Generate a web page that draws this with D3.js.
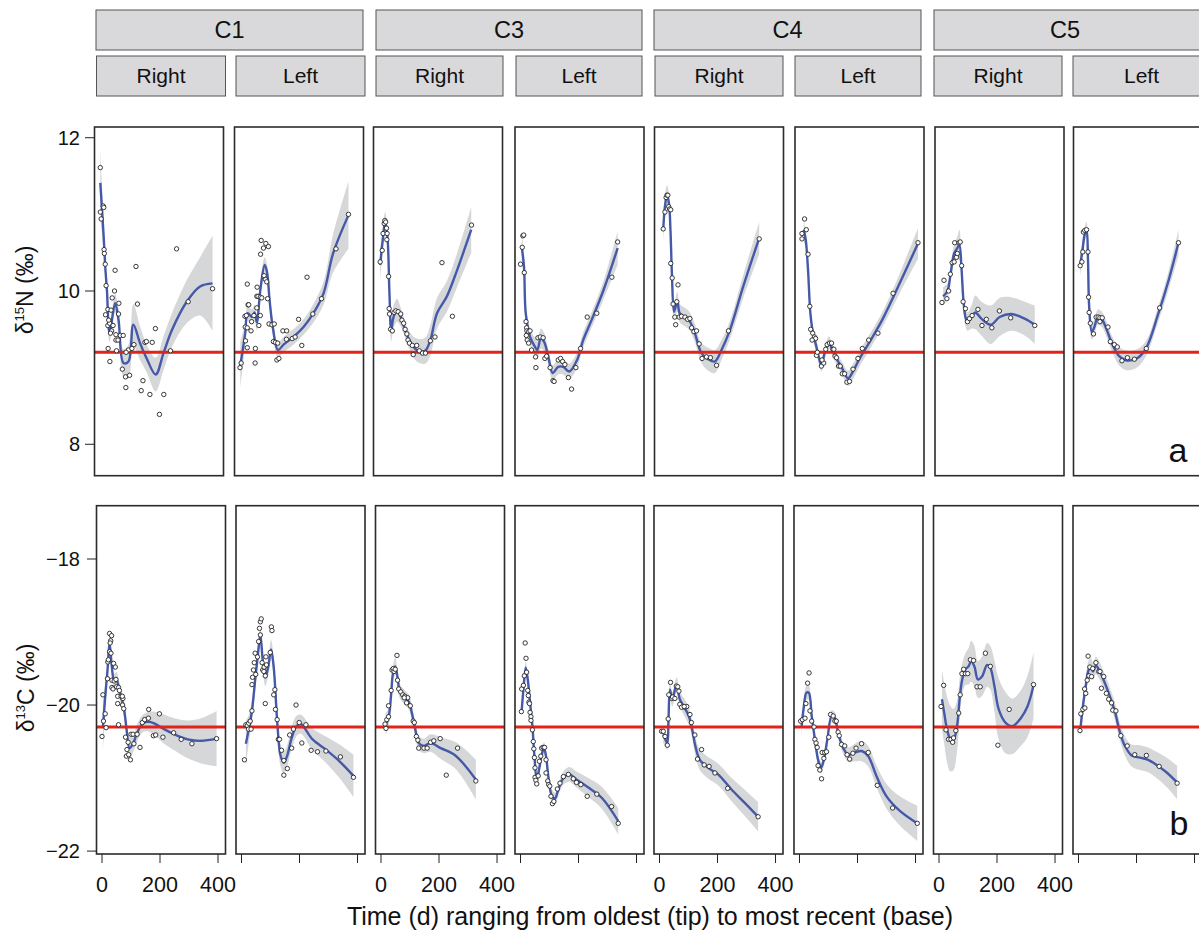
<!DOCTYPE html>
<meta charset="utf-8">
<script src="https://d3js.org/d3.v7.min.js"></script>
<style>
  body { margin: 0; background: #fff; }
  svg { font-family: "Liberation Sans", Arial, Helvetica, sans-serif; }
</style>
<div id="chart"></div>
<script>

// strip labels
const groups = ["C1", "C3", "C4", "C5"];
const sides = ["Right", "Left"];

// axis ticks
const xTicks = [0, 200, 400];
const n15Ticks = [8, 10, 12];
const c13Ticks = [-22, -20, -18];

// reference (red) lines
const n15Ref = 9.2;
const c13Ref = -20.3;

// d15N measurements, [day, value], one list per panel (C1 R, C1 L, C3 R, C3 L, C4 R, C4 L, C5 R, C5 L)
const n15Points = [
  [[1,11.61],[11,11.11],[13,11.09],[1,11.03],[4,10.94],[14,10.54],[15,10.49],[18,10.35],[52,10.27],[124,10.32],[264,10.55],[388,10.03],[21,10.07],[50,10.0],[42,9.91],[65,9.84],[27,9.76],[38,9.75],[19,9.69],[64,9.70],[129,9.83],[27,9.55],[33,9.58],[45,9.55],[40,9.48],[55,9.43],[70,9.42],[80,9.42],[55,9.36],[62,9.36],[28,9.25],[57,9.22],[98,9.23],[110,9.25],[90,9.2],[155,9.33],[160,9.34],[180,9.33],[191,9.51],[117,9.30],[34,9.08],[77,8.98],[88,8.88],[102,8.9],[89,8.74],[148,8.83],[142,8.70],[172,8.65],[220,8.65],[205,8.39],[243,9.22],[304,9.86],[30,9.62],[36,9.45]],
  [[73,10.66],[89,10.62],[98,10.58],[81,10.56],[71,10.48],[231,10.18],[331,10.55],[374,11.0],[25,10.09],[83,10.2],[88,10.15],[92,10.12],[59,10.05],[281,9.9],[58,9.93],[62,9.93],[70,9.92],[75,9.91],[95,9.90],[28,9.82],[30,9.82],[17,9.67],[22,9.68],[48,9.68],[70,9.68],[18,9.53],[25,9.52],[38,9.48],[100,9.57],[110,9.56],[118,9.57],[19,9.35],[25,9.26],[53,9.25],[0,9.0],[4,9.06],[52,9.06],[127,9.1],[134,9.12],[115,9.34],[122,9.33],[130,9.32],[148,9.48],[161,9.48],[160,9.37],[180,9.38],[190,9.40],[202,9.63],[213,9.29],[251,9.70],[58,9.78],[40,9.6],[65,9.55]],
  [[4,10.38],[11,10.53],[14,10.75],[18,10.88],[20,10.92],[23,10.9],[26,10.82],[28,10.75],[27,10.67],[33,10.19],[35,9.77],[36,9.7],[40,9.5],[46,9.48],[52,9.72],[58,9.74],[66,9.73],[75,9.70],[79,9.62],[85,9.58],[90,9.5],[96,9.44],[100,9.36],[105,9.32],[115,9.29],[130,9.29],[118,9.17],[139,9.22],[150,9.19],[160,9.19],[177,9.35],[193,9.4],[217,10.37],[253,9.67],[319,10.86]],
  [[8,10.72],[11,10.73],[6,10.57],[0,10.35],[13,10.24],[19,9.6],[21,9.52],[22,9.48],[28,9.47],[33,9.48],[20,9.42],[23,9.36],[28,9.32],[38,9.23],[52,9.14],[53,9.0],[60,9.39],[68,9.4],[78,9.39],[84,9.12],[90,9.15],[102,9.0],[112,8.83],[116,8.82],[130,9.1],[138,9.12],[145,9.08],[153,9.04],[165,8.87],[176,8.72],[191,9.0],[207,9.25],[230,9.66],[263,9.71],[315,10.18],[335,10.64]],
  [[11,10.81],[17,11.03],[21,11.22],[24,11.25],[27,11.25],[30,11.1],[33,11.07],[37,11.06],[37,10.36],[42,10.17],[45,9.83],[51,9.66],[54,9.56],[62,10.08],[58,9.86],[66,9.66],[74,9.67],[86,9.66],[95,9.63],[103,9.64],[109,9.52],[117,9.47],[126,9.48],[135,9.31],[145,9.12],[160,9.14],[174,9.13],[195,9.03],[236,9.48],[342,10.68]],
  [[14,10.94],[5,10.75],[5,10.68],[20,10.80],[26,10.48],[32,9.80],[35,9.5],[42,9.45],[48,9.4],[52,9.38],[40,9.36],[55,9.16],[58,9.2],[72,9.02],[80,9.06],[74,9.1],[87,9.24],[92,9.3],[100,9.32],[107,9.32],[112,9.24],[115,9.24],[119,9.15],[124,9.13],[131,9.02],[137,9.02],[144,8.92],[152,8.92],[160,8.81],[169,8.82],[181,8.98],[198,9.12],[213,9.25],[235,9.36],[267,9.45],[319,9.97],[405,10.63]],
  [[5,9.85],[12,10.14],[22,9.9],[28,10.0],[34,10.22],[40,10.37],[47,10.38],[49,10.63],[64,10.63],[68,10.64],[55,10.44],[58,10.49],[73,10.33],[78,9.86],[86,9.77],[93,9.6],[100,9.64],[109,9.68],[129,9.76],[143,9.55],[158,9.63],[177,9.52],[203,9.74],[242,9.65],[325,9.55]],
  [[4,10.33],[10,10.38],[13,10.51],[15,10.77],[20,10.79],[26,10.80],[31,10.51],[33,9.92],[35,9.72],[39,9.58],[50,9.44],[59,9.66],[66,9.66],[72,9.65],[80,9.65],[72,9.6],[100,9.53],[108,9.34],[122,9.3],[132,9.27],[148,9.09],[167,9.13],[191,9.11],[232,9.25],[278,9.78],[343,10.63]]
];

// d15N smooth fit, [day, fit, half width of grey band]
const n15Fit = [
  [[1,11.41,0.45],[12,10.75,0.2],[18,10.32,0.12],[24,10.0,0.12],[33,9.45,0.12],[52,9.84,0.12],[64,9.62,0.15],[81,9.06,0.18],[98,9.08,0.22],[115,9.56,0.27],[138,9.32,0.22],[161,9.12,0.18],[192,8.91,0.22],[219,9.19,0.22],[248,9.49,0.22],[299,9.86,0.28],[345,10.06,0.38],[388,10.10,0.62]],
  [[1,9.03,0.3],[18,9.45,0.15],[26,9.71,0.1],[41,9.66,0.1],[50,9.72,0.1],[58,9.59,0.1],[70,10.01,0.1],[85,10.34,0.1],[93,10.25,0.1],[102,9.88,0.1],[113,9.53,0.1],[131,9.23,0.1],[150,9.30,0.1],[184,9.40,0.1],[219,9.53,0.1],[253,9.71,0.12],[288,9.97,0.15],[321,10.49,0.25],[374,10.99,0.44]],
  [[4,10.34,0.2],[13,10.67,0.15],[21,10.90,0.13],[29,10.71,0.13],[36,9.97,0.13],[42,9.49,0.15],[50,9.66,0.15],[62,9.75,0.15],[75,9.66,0.12],[90,9.49,0.1],[107,9.34,0.12],[130,9.23,0.15],[159,9.22,0.17],[177,9.36,0.2],[200,9.71,0.2],[234,9.93,0.2],[269,10.27,0.22],[318,10.80,0.3]],
  [[4,10.58,0.2],[12,10.32,0.15],[18,9.71,0.12],[33,9.40,0.1],[50,9.27,0.12],[58,9.23,0.12],[70,9.38,0.13],[81,9.34,0.12],[96,9.14,0.1],[111,8.93,0.1],[130,9.01,0.1],[147,9.01,0.1],[168,8.95,0.1],[195,9.10,0.1],[216,9.36,0.1],[245,9.62,0.1],[286,10.01,0.12],[335,10.56,0.22]],
  [[11,10.80,0.18],[17,11.10,0.15],[24,11.25,0.13],[31,11.14,0.13],[36,10.80,0.12],[41,10.23,0.1],[48,9.73,0.1],[52,9.77,0.12],[60,9.86,0.13],[68,9.71,0.12],[86,9.66,0.12],[103,9.60,0.12],[120,9.45,0.12],[143,9.19,0.13],[166,9.11,0.15],[189,9.08,0.15],[212,9.23,0.13],[241,9.49,0.12],[287,10.06,0.15],[342,10.69,0.21]],
  [[11,10.80,0.15],[18,10.67,0.1],[26,10.27,0.08],[34,9.71,0.08],[43,9.45,0.08],[55,9.27,0.08],[64,9.12,0.08],[72,9.03,0.08],[83,9.19,0.08],[98,9.33,0.08],[110,9.23,0.08],[124,9.12,0.08],[141,9.01,0.08],[164,8.86,0.1],[181,8.95,0.1],[204,9.12,0.1],[239,9.34,0.1],[284,9.64,0.1],[342,10.10,0.13],[405,10.62,0.2]],
  [[9,9.93,0.12],[24,10.0,0.1],[35,10.23,0.1],[47,10.49,0.12],[58,10.56,0.15],[65,10.60,0.2],[72,10.32,0.15],[79,9.88,0.12],[86,9.66,0.12],[93,9.60,0.12],[107,9.66,0.15],[120,9.72,0.22],[141,9.64,0.22],[173,9.56,0.25],[204,9.66,0.25],[244,9.70,0.22],[290,9.64,0.22],[325,9.56,0.25]],
  [[4,10.34,0.15],[12,10.53,0.12],[19,10.73,0.1],[26,10.80,0.1],[31,10.40,0.1],[35,9.80,0.1],[44,9.47,0.1],[53,9.53,0.1],[65,9.66,0.1],[79,9.63,0.1],[96,9.49,0.1],[113,9.32,0.1],[136,9.16,0.12],[159,9.10,0.13],[194,9.11,0.12],[228,9.23,0.1],[274,9.71,0.1],[309,10.14,0.12],[343,10.63,0.17]]
];

// d13C measurements, [day, value]
const c13Points = [
  [[3,-19.86],[5,-20.22],[0,-20.43],[11,-20.12],[14,-20.31],[19,-19.64],[20,-19.41],[22,-19.38],[26,-19.02],[33,-19.05],[30,-19.12],[28,-19.15],[26,-19.27],[31,-19.29],[40,-19.43],[46,-19.48],[34,-19.66],[42,-19.67],[48,-19.65],[34,-19.76],[38,-19.78],[50,-19.75],[57,-19.76],[60,-19.8],[54,-19.88],[66,-19.88],[54,-19.98],[71,-20.0],[75,-20.05],[72,-19.91],[70,-19.88],[57,-20.27],[81,-20.44],[86,-20.61],[84,-20.7],[92,-20.68],[98,-20.75],[100,-20.40],[107,-20.40],[90,-20.51],[110,-20.53],[131,-20.58],[121,-20.40],[139,-20.24],[147,-20.2],[160,-20.18],[161,-20.06],[198,-20.12],[177,-20.42],[185,-20.41],[210,-20.44],[247,-20.38],[273,-20.47],[310,-20.53],[395,-20.46]],
  [[10,-20.75],[15,-20.27],[20,-20.28],[25,-20.25],[30,-20.22],[24,-20.33],[33,-20.33],[36,-20.08],[36,-19.72],[38,-19.62],[41,-19.52],[44,-19.42],[49,-19.58],[47,-19.29],[55,-19.34],[59,-19.13],[65,-19.04],[62,-18.95],[65,-18.86],[68,-18.82],[71,-19.42],[73,-19.52],[77,-19.54],[82,-19.6],[78,-19.48],[86,-19.45],[84,-19.34],[82,-19.98],[103,-18.93],[105,-18.98],[99,-19.28],[115,-19.79],[111,-19.86],[117,-20.06],[123,-20.20],[127,-20.47],[131,-20.47],[138,-20.62],[146,-20.76],[146,-20.96],[158,-20.87],[166,-20.41],[173,-20.59],[179,-20.33],[188,-20.0],[199,-20.24],[222,-20.27],[208,-20.52],[240,-20.62],[262,-20.64],[291,-20.63],[341,-20.71],[386,-20.99]],
  [[14,-20.26],[20,-20.2],[26,-20.16],[17,-20.32],[26,-20.01],[35,-19.80],[38,-19.52],[42,-19.5],[45,-19.54],[49,-19.51],[55,-19.32],[57,-19.66],[61,-19.78],[68,-19.82],[75,-19.86],[82,-19.88],[92,-19.9],[88,-19.97],[80,-19.9],[101,-20.01],[111,-20.22],[115,-20.24],[122,-20.43],[127,-20.48],[130,-20.59],[148,-20.59],[159,-20.59],[171,-20.51],[182,-20.49],[204,-20.46],[225,-20.96],[264,-20.59],[327,-21.04]],
  [[16,-19.15],[19,-19.36],[3,-20.09],[4,-19.78],[10,-19.73],[13,-19.6],[21,-19.55],[25,-19.8],[27,-19.87],[29,-19.96],[31,-19.98],[33,-20.1],[36,-20.16],[36,-20.21],[41,-20.34],[44,-20.50],[46,-20.6],[48,-20.72],[50,-20.86],[50,-20.99],[53,-21.03],[56,-21.08],[61,-20.97],[65,-20.77],[70,-20.7],[73,-20.59],[78,-20.58],[83,-20.58],[88,-20.75],[88,-20.93],[94,-21.04],[97,-21.09],[101,-21.11],[105,-21.25],[110,-21.35],[115,-21.32],[127,-21.15],[136,-21.07],[148,-20.98],[165,-20.95],[182,-21.01],[193,-21.06],[208,-21.09],[230,-21.25],[263,-21.22],[314,-21.39],[337,-21.62]],
  [[7,-20.36],[13,-20.36],[19,-20.43],[27,-20.55],[30,-20.19],[32,-19.86],[38,-19.69],[42,-19.91],[45,-19.89],[58,-19.74],[63,-19.75],[53,-19.91],[67,-19.81],[70,-19.99],[76,-20.03],[87,-20.03],[94,-20.02],[85,-20.02],[105,-20.13],[110,-20.24],[122,-20.41],[131,-20.74],[145,-20.61],[154,-20.82],[171,-20.84],[191,-20.93],[235,-21.14],[340,-21.53]],
  [[4,-20.22],[10,-20.2],[19,-20.18],[22,-19.98],[28,-19.70],[33,-19.56],[36,-20.08],[42,-20.22],[50,-20.30],[53,-20.47],[57,-20.52],[61,-20.58],[64,-20.83],[70,-20.89],[76,-21.01],[78,-20.65],[84,-20.73],[87,-20.65],[93,-20.64],[101,-20.44],[107,-20.13],[116,-20.15],[122,-20.22],[127,-20.22],[133,-20.37],[137,-20.42],[145,-20.54],[156,-20.56],[164,-20.68],[173,-20.74],[184,-20.66],[195,-20.59],[214,-20.53],[237,-20.65],[268,-21.10],[321,-21.41],[406,-21.62]],
  [[7,-20.02],[16,-19.73],[24,-20.34],[33,-20.47],[41,-20.47],[47,-20.51],[50,-20.45],[58,-20.35],[68,-20.11],[73,-19.86],[79,-19.57],[85,-19.51],[91,-19.57],[99,-19.57],[108,-19.38],[119,-19.39],[131,-19.75],[142,-19.75],[160,-19.29],[177,-19.47],[203,-20.55],[242,-20.06],[326,-19.72]],
  [[5,-20.35],[8,-20.12],[15,-20.06],[22,-20.04],[21,-19.78],[25,-19.84],[30,-19.66],[36,-19.60],[33,-19.33],[39,-19.48],[45,-19.61],[49,-19.5],[60,-19.42],[70,-19.54],[74,-19.54],[87,-19.61],[79,-19.77],[96,-19.84],[104,-19.92],[114,-19.97],[118,-20.07],[129,-20.08],[146,-20.42],[168,-20.56],[194,-20.68],[234,-20.69],[278,-20.84],[340,-21.07]]
];

// d13C smooth fit, [day, fit, half width of grey band]
const c13Fit = [
  [[3,-20.31,0.35],[11,-19.89,0.2],[19,-19.52,0.12],[26,-19.15,0.1],[34,-19.48,0.1],[42,-19.68,0.1],[49,-19.64,0.1],[61,-19.82,0.12],[75,-20.03,0.12],[84,-20.31,0.12],[95,-20.59,0.15],[108,-20.52,0.12],[121,-20.38,0.12],[139,-20.26,0.12],[156,-20.23,0.13],[180,-20.25,0.16],[214,-20.33,0.2],[249,-20.40,0.22],[296,-20.47,0.26],[342,-20.49,0.31],[395,-20.46,0.38]],
  [[15,-20.53,0.32],[24,-20.35,0.2],[36,-20.08,0.15],[47,-19.66,0.13],[57,-19.29,0.13],[65,-19.04,0.13],[73,-19.38,0.12],[82,-19.62,0.12],[92,-19.48,0.12],[102,-19.24,0.13],[111,-19.48,0.13],[123,-20.22,0.15],[134,-20.68,0.15],[146,-20.79,0.15],[157,-20.70,0.15],[173,-20.45,0.15],[189,-20.29,0.14],[204,-20.26,0.13],[245,-20.47,0.15],[291,-20.61,0.18],[338,-20.77,0.23],[386,-20.97,0.29]],
  [[16,-20.26,0.15],[26,-20.17,0.12],[35,-19.85,0.1],[41,-19.57,0.1],[49,-19.47,0.12],[57,-19.62,0.1],[64,-19.80,0.1],[78,-19.88,0.1],[96,-19.96,0.1],[107,-20.12,0.1],[119,-20.35,0.1],[130,-20.52,0.1],[148,-20.56,0.1],[171,-20.52,0.12],[206,-20.59,0.15],[253,-20.68,0.18],[288,-20.82,0.22],[327,-21.02,0.27]],
  [[4,-20.08,0.1],[10,-19.79,0.08],[18,-19.49,0.08],[25,-19.65,0.08],[33,-19.97,0.08],[41,-20.29,0.08],[48,-20.70,0.08],[56,-21.02,0.08],[65,-20.86,0.08],[73,-20.68,0.08],[81,-20.59,0.08],[88,-20.70,0.08],[96,-20.98,0.08],[107,-21.23,0.08],[119,-21.28,0.08],[130,-21.16,0.08],[148,-21.0,0.09],[168,-20.95,0.1],[193,-21.02,0.11],[234,-21.13,0.13],[280,-21.27,0.15],[337,-21.59,0.18]],
  [[13,-20.40,0.12],[21,-20.48,0.1],[27,-20.52,0.1],[31,-20.2,0.1],[36,-19.79,0.1],[44,-19.92,0.1],[59,-19.72,0.1],[70,-19.92,0.1],[87,-20.04,0.12],[101,-20.15,0.12],[113,-20.34,0.12],[124,-20.57,0.13],[139,-20.75,0.14],[168,-20.86,0.15],[202,-20.95,0.15],[249,-21.16,0.16],[294,-21.34,0.18],[340,-21.53,0.2]],
  [[7,-20.31,0.12],[15,-20.02,0.1],[24,-19.83,0.1],[32,-19.83,0.1],[42,-20.15,0.08],[53,-20.47,0.08],[64,-20.75,0.08],[74,-20.86,0.08],[84,-20.75,0.08],[96,-20.47,0.08],[111,-20.15,0.08],[122,-20.18,0.08],[133,-20.38,0.08],[151,-20.59,0.08],[168,-20.68,0.1],[191,-20.65,0.12],[214,-20.63,0.14],[237,-20.70,0.14],[266,-20.98,0.15],[300,-21.25,0.17],[346,-21.45,0.2],[406,-21.62,0.24]],
  [[10,-19.92,0.4],[18,-20.11,0.42],[28,-20.34,0.45],[39,-20.46,0.45],[50,-20.47,0.42],[62,-20.29,0.35],[71,-19.92,0.28],[80,-19.65,0.22],[91,-19.51,0.22],[102,-19.47,0.25],[111,-19.40,0.28],[122,-19.47,0.28],[134,-19.65,0.25],[148,-19.61,0.27],[166,-19.45,0.3],[177,-19.49,0.3],[191,-19.74,0.35],[206,-20.06,0.42],[229,-20.24,0.42],[253,-20.29,0.38],[282,-20.18,0.38],[305,-20.02,0.42],[326,-19.73,0.45]],
  [[7,-20.31,0.15],[16,-19.99,0.12],[25,-19.74,0.12],[36,-19.51,0.13],[43,-19.49,0.13],[50,-19.54,0.12],[60,-19.46,0.12],[71,-19.52,0.12],[91,-19.70,0.12],[108,-19.88,0.12],[125,-20.08,0.12],[142,-20.36,0.12],[160,-20.56,0.13],[183,-20.69,0.15],[212,-20.72,0.17],[240,-20.75,0.17],[269,-20.82,0.18],[303,-20.92,0.2],[340,-21.06,0.23]]
];

// layout
const width = 1199, height = 933;
const panelW = 129;
const topLeft = [94.5, 234.5, 373.5, 515, 654.5, 795, 935, 1073.5];
const botLeft = [96.5, 236, 375.5, 515, 654, 794, 933.5, 1073];

const rows = [
  {pts: n15Points, fit: n15Fit, lefts: topLeft, y0: 127, y1: 475.7, dom: [7.59, 12.14], ticks: n15Ticks, ref: n15Ref},
  {pts: c13Points, fit: c13Fit, lefts: botLeft, y0: 505.7, y1: 854, dom: [-22.04, -17.27], ticks: c13Ticks, ref: c13Ref}
];

const svg = d3.select("#chart").append("svg")
    .attr("width", width)
    .attr("height", height);

const defs = svg.append("defs");

// strip headers
const groupBoxes = [[96, 363], [376, 642], [654, 921], [934, 1210]];
const sideBoxes = [[96.5, 225.5], [236, 365], [376, 503], [516, 642], [655, 783], [795, 921], [934, 1062], [1073, 1210]];
const groupLabelX = [229.5, 509, 787.5, 1065];

groups.forEach((g, i) => {
    const [a, b] = groupBoxes[i];
    svg.append("rect").attr("x", a).attr("y", 10).attr("width", b - a).attr("height", 40)
        .attr("fill", "#d9d9db").attr("stroke", "#555").attr("stroke-width", 1);
    svg.append("text").attr("x", groupLabelX[i]).attr("y", 38)
        .attr("text-anchor", "middle").attr("font-size", 23.5).attr("fill", "#111").text(g);
});

sideBoxes.forEach(([a, b], i) => {
    svg.append("rect").attr("x", a).attr("y", 56).attr("width", b - a).attr("height", 40)
        .attr("fill", "#d9d9db").attr("stroke", "#555").attr("stroke-width", 1);
    const cx = i == 7 ? 1141.5 : (a + b) / 2;
    svg.append("text").attr("x", cx).attr("y", 83)
        .attr("text-anchor", "middle").attr("font-size", 21).attr("fill", "#111").text(sides[i % 2]);
});

rows.forEach((row, r) => {
    const y = d3.scaleLinear().domain(row.dom).range([row.y1, row.y0]);

    row.lefts.forEach((left, p) => {
        const x = d3.scaleLinear().domain([-19, 425.8]).range([left, left + panelW]);
        const clipId = `clip-${r}-${p}`;
        defs.append("clipPath").attr("id", clipId)
            .append("rect").attr("x", left).attr("y", row.y0)
            .attr("width", panelW).attr("height", row.y1 - row.y0);

        const g = svg.append("g").attr("clip-path", `url(#${clipId})`);
        const fit = row.fit[p];

        // confidence band
        const band = d3.area()
            .curve(d3.curveCatmullRom.alpha(0.5))
            .x(d => x(d[0]))
            .y0(d => y(d[1] - d[2]))
            .y1(d => y(d[1] + d[2]));
        g.append("path").datum(fit)
            .attr("d", band)
            .attr("fill", "#d6d7d9");

        // smooth line
        const line = d3.line()
            .curve(d3.curveCatmullRom.alpha(0.5))
            .x(d => x(d[0]))
            .y(d => y(d[1]));
        g.append("path").datum(fit)
            .attr("d", line)
            .attr("fill", "none")
            .attr("stroke", "#4559a9")
            .attr("stroke-width", 2.4)
            .attr("stroke-linejoin", "round");

        // reference line
        g.append("line")
            .attr("x1", left).attr("x2", left + panelW)
            .attr("y1", y(row.ref)).attr("y2", y(row.ref))
            .attr("stroke", "#e2231a").attr("stroke-width", 3);

        // measurements
        g.selectAll("circle").data(row.pts[p]).join("circle")
            .attr("cx", d => x(d[0]))
            .attr("cy", d => y(d[1]))
            .attr("r", 2.2)
            .attr("fill", "#fff")
            .attr("stroke", "#222")
            .attr("stroke-width", 0.9);

        // frame
        svg.append("rect")
            .attr("x", left).attr("y", row.y0)
            .attr("width", panelW).attr("height", row.y1 - row.y0)
            .attr("fill", "none").attr("stroke", "#2b2b2b").attr("stroke-width", 1.6);

        // x ticks on the bottom row
        if (r == 1) {
            xTicks.forEach(t => {
                svg.append("line")
                    .attr("x1", x(t)).attr("x2", x(t))
                    .attr("y1", row.y1).attr("y2", row.y1 + 9)
                    .attr("stroke", "#222").attr("stroke-width", 1);
                if (p % 2 == 0) {
                    svg.append("text")
                        .attr("x", x(t)).attr("y", 892)
                        .attr("text-anchor", "middle")
                        .attr("font-size", 21.5).attr("fill", "#111")
                        .text(t);
                }
            });
        }
    });

    // y axis ticks
    const axLeft = row.lefts[0];
    row.ticks.forEach(t => {
        svg.append("line")
            .attr("x1", axLeft - 9.5).attr("x2", axLeft)
            .attr("y1", y(t)).attr("y2", y(t))
            .attr("stroke", "#222").attr("stroke-width", 1);
        svg.append("text")
            .attr("x", 80).attr("y", y(t))
            .attr("dy", "0.36em")
            .attr("text-anchor", "end")
            .attr("font-size", 20).attr("fill", "#111")
            .text(t < 0 ? "\u2212" + Math.abs(t) : t);
    });
});

// y titles
function isoTitle(cx, cy, mass, el) {
    const t = svg.append("text")
        .attr("transform", `translate(${cx},${cy}) rotate(-90)`)
        .attr("text-anchor", "middle")
        .attr("font-size", 23).attr("fill", "#111");
    t.append("tspan").text("\u03b4");
    t.append("tspan").attr("font-size", 13).attr("dy", -9).text(mass);
    t.append("tspan").attr("dy", 9).text(el + " (\u2030)");
}
isoTitle(33, 290, "15", "N");
isoTitle(34, 688, "13", "C");

// x title
svg.append("text")
    .attr("x", 650).attr("y", 925)
    .attr("text-anchor", "middle")
    .attr("font-size", 25).attr("fill", "#111")
    .text("Time (d) ranging from oldest (tip) to most recent (base)");

// panel letters
svg.append("text").attr("x", 1178).attr("y", 462).attr("text-anchor", "middle")
    .attr("font-size", 34).attr("fill", "#111").text("a");
svg.append("text").attr("x", 1179).attr("y", 835).attr("text-anchor", "middle")
    .attr("font-size", 34).attr("fill", "#111").text("b");

</script>
